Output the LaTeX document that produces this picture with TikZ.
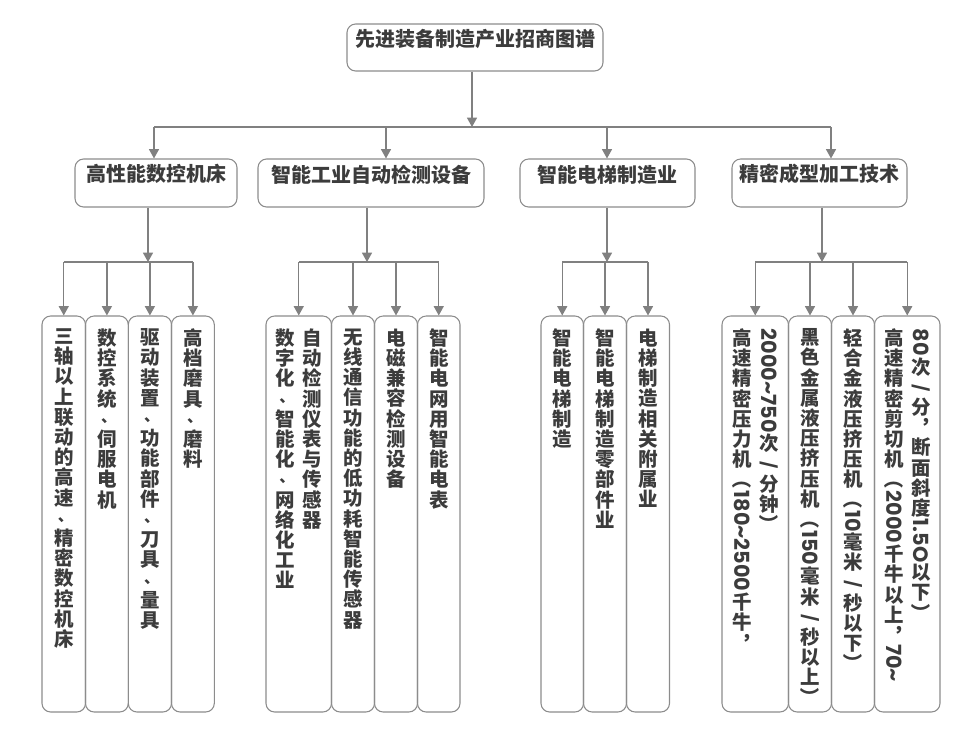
\documentclass[tikz,border=0pt]{standalone}
\usepackage{fontspec}
\usepackage{graphicx}
\usetikzlibrary{arrows.meta,fit,calc}
\newfontfamily\cjk{Noto Sans CJK SC}
\newfontfamily\dg{Poppins}
\definecolor{txt}{HTML}{3C3C3C}
\definecolor{lnc}{HTML}{808080}
\definecolor{bdc}{HTML}{8C8C8C}
\newcommand\rt[1]{\rotatebox[origin=c]{-90}{#1}}
\newcommand\rd[1]{\rotatebox[origin=c]{-90}{\dg\bfseries\fontsize{15.6pt}{16pt}\selectfont #1}}
\newcommand\rs{\rotatebox[origin=c]{-90}{\dg\fontsize{12pt}{12pt}\selectfont /}}
\newcommand\dn{\raisebox{0.2em}{\makebox[1em][l]{\kern0.2em\fontsize{11.6pt}{12pt}\selectfont 、}}}
\makeatletter
\newcommand\vcol[1]{\vtop{\kern0pt\baselineskip=15.15pt\lineskiplimit=0pt\lineskip=1.2pt\@tfor\vc@t:=#1\do{\hbox to 15pt{\hss\vc@t\hss}}}}
\makeatother
\newcommand\vgap{\hspace{5.25pt}}
\begin{document}
\begin{tikzpicture}[x=0.75pt,y=-0.75pt,
  boxs/.style={draw=bdc,line width=0.8pt,rounded corners=6.5pt,inner sep=0pt},
  hbox/.style={boxs,text=txt,font=\cjk\bfseries\fontsize{15pt}{18pt}\selectfont},
  vt/.style={inner sep=0pt,anchor=north,text=txt,font=\cjk\bfseries\fontsize{14.6pt}{15.15pt}\selectfont},
  con/.style={draw=lnc,line width=0.9pt},
  arr/.style={con,-{Triangle[width=7.5pt,length=7pt]}}]
\useasboundingbox (0,0) rectangle (955,740);
% root and level 2
\node[hbox,fit={(347,24) (603,71)}] (root) {先进装备制造产业招商图谱};
\node[hbox,fit={(75,159) (237,207)}] (b1) {高性能数控机床};
\node[hbox,fit={(258,159) (484,207)}] (b2) {智能工业自动检测设备};
\node[hbox,fit={(520,159) (695,207)}] (b3) {智能电梯制造业};
\node[hbox,fit={(732,159) (907,207)}] (b4) {精密成型加工技术};
% junction coordinates
\coordinate (h0) at (472,127);
\coordinate (a1) at (154,127);
\coordinate (a2) at (386,127);
\coordinate (a3) at (607,127);
\coordinate (a4) at (831,127);
\coordinate (j1) at (148,262);
\coordinate (j2) at (367,262);
\coordinate (j3) at (607,262);
\coordinate (j4) at (822,262);
% leaves
\node[boxs,fit={(42,316) (85.5,712)}] (l11) {};
\node[boxs,fit={(85.5,316) (128.3,712)}] (l12) {};
\node[boxs,fit={(128.3,316) (171.5,712)}] (l13) {};
\node[boxs,fit={(171.5,316) (214.3,712)}] (l14) {};
\node[boxs,fit={(266,316) (331.5,712)}] (l21) {};
\node[boxs,fit={(331.5,316) (374.5,712)}] (l22) {};
\node[boxs,fit={(374.5,316) (417.5,712)}] (l23) {};
\node[boxs,fit={(417.5,316) (460,712)}] (l24) {};
\node[boxs,fit={(541,316) (583.5,712)}] (l31) {};
\node[boxs,fit={(583.5,316) (626.5,712)}] (l32) {};
\node[boxs,fit={(626.5,316) (669.5,712)}] (l33) {};
\node[boxs,fit={(722,316) (788.5,712)}] (l41) {};
\node[boxs,fit={(788.5,316) (831.5,712)}] (l42) {};
\node[boxs,fit={(831.5,316) (874.5,712)}] (l43) {};
\node[boxs,fit={(874.5,316) (940,712)}] (l44) {};
% leaf texts
\node[vt] (t11) at ($(l11.north)+(0,13)$) {\vcol{三轴以上联动的高速\dn 精密数控机床}};
\node[vt] (t12) at ($(l12.north)+(0,13)$) {\vcol{数控系统\dn 伺服电机}};
\node[vt] (t13) at ($(l13.north)+(0,13)$) {\vcol{驱动装置\dn 功能部件\dn 刀具\dn 量具}};
\node[vt] (t14) at ($(l14.north)+(0,13)$) {\vcol{高档磨具\dn 磨料}};
\node[vt] (t21) at ($(l21.north)+(0,13)$) {\vcol{数字化\dn 智能化\dn 网络化工业}\vgap\vcol{自动检测仪表与传感器}};
\node[vt] (t22) at ($(l22.north)+(0,13)$) {\vcol{无线通信功能的低功耗智能传感器}};
\node[vt] (t23) at ($(l23.north)+(0,13)$) {\vcol{电磁兼容检测设备}};
\node[vt] (t24) at ($(l24.north)+(0,13)$) {\vcol{智能电网用智能电表}};
\node[vt] (t31) at ($(l31.north)+(0,13)$) {\vcol{智能电梯制造}};
\node[vt] (t32) at ($(l32.north)+(0,13)$) {\vcol{智能电梯制造零部件业}};
\node[vt] (t33) at ($(l33.north)+(0,13)$) {\vcol{电梯制造相关附属业}};
\node[vt] (t41) at ($(l41.north)+(0,13)$) {\vcol{高速精密压力机{\rt{（}}{\rd{180\textasciitilde2500}}千牛︐}\vgap\vcol{{\rd{2000\textasciitilde750}}次\rs 分钟{\rt{）}}}};
\node[vt] (t42) at ($(l42.north)+(0,13)$) {\vcol{黑色金属液压挤压机{\rt{（}}{\rd{150}}毫米\rs 秒以上{\rt{）}}}};
\node[vt] (t43) at ($(l43.north)+(0,13)$) {\vcol{轻合金液压挤压机{\rt{（}}{\rd{10}}毫米\rs 秒以下{\rt{）}}}};
\node[vt] (t44) at ($(l44.north)+(0,13)$) {\vcol{高速精密剪切机{\rt{（}}{\rd{2000}}千牛以上︐{\rd{70\textasciitilde}}}\vgap\vcol{{\rd{80}}次\rs 分︐断面斜度{\rd{1.5O}}以下{\rt{）}}}};
% connectors top
\draw[arr] (root.south -| h0) -- (h0);
\draw[con] (a1) -- (a4);
\draw[arr] (a1) -- (a1 |- b1.north);
\draw[arr] (a2) -- (a2 |- b2.north);
\draw[arr] (a3) -- (a3 |- b3.north);
\draw[arr] (a4) -- (a4 |- b4.north);
% level 2 to junctions
\draw[arr] (b1.south -| j1) -- (j1);
\draw[arr] (b2.south -| j2) -- (j2);
\draw[arr] (b3.south -| j3) -- (j3);
\draw[arr] (b4.south -| j4) -- (j4);
% group bars
\draw[con] (l11.north |- j1) -- (l14.north |- j1);
\draw[con] (l21.north |- j2) -- (l24.north |- j2);
\draw[con] (l31.north |- j3) -- (l33.north |- j3);
\draw[con] (l41.north |- j4) -- (l44.north |- j4);
% drops
\foreach \n/\j in {l11/j1,l12/j1,l13/j1,l14/j1,l21/j2,l22/j2,l23/j2,l24/j2,l31/j3,l32/j3,l33/j3,l41/j4,l42/j4,l43/j4,l44/j4}
  \draw[arr] (\n.north |- \j) -- (\n.north);
\end{tikzpicture}
\end{document}
